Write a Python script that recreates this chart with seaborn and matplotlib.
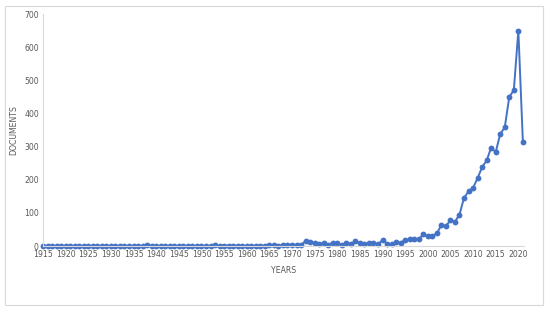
import matplotlib
matplotlib.use("Agg")
import matplotlib.pyplot as plt
import seaborn as sns
import pandas as pd
import numpy as np
from matplotlib.patches import Rectangle

years = list(range(1915, 2022))
documents = (
    [0] * 23 +            # 1915-1937
    [2] +                 # 1938
    [0] * 14 +            # 1939-1952
    [3, 0, 1, 1, 0, 1, 0, 0, 0, 1, 1, 1, 4, 2, 1, 2, 4, 4, 2, 3,  # 1953-1972
     15, 11, 10, 6, 8, 4, 10, 8, 3, 10, 6, 14, 8, 6, 9, 10, 5, 18,  # 1973-1990
     7, 5, 12, 10, 18, 20, 20, 20, 35, 29, 30, 38, 63, 60, 78, 73,  # 1991-2006
     95, 145, 165, 175, 205, 238, 258, 297, 283, 338, 358, 450, 470, 650, 315]  # 2007-2021
)
x_ticks = list(range(1915, 2021, 5))
y_ticks = [0, 100, 200, 300, 400, 500, 600, 700]

df = pd.DataFrame({"YEARS": years, "DOCUMENTS": documents})

sns.set_theme(style="white")
plt.rcParams['font.family'] = ['DejaVu Sans']

fig = plt.figure(figsize=(5.5, 3.1), dpi=100)
ax = fig.add_axes([43/550, 1-246/310, (524-43)/550, (246-14)/310])

sns.lineplot(data=df, x="YEARS", y="DOCUMENTS", ax=ax, color="#4472C4",
             linewidth=1.4, marker="o", markersize=4.2, markeredgewidth=0)

ax.set_xlim(1915, 2021 + 0.25)
ax.set_ylim(0, 700)
ax.set_xticks(x_ticks)
ax.set_yticks(y_ticks)
ax.tick_params(axis="both", labelsize=5.6, colors="#595959", length=0, pad=3)
ax.set_xlabel("YEARS", fontsize=5.6, color="#595959", labelpad=5)
ax.set_ylabel("DOCUMENTS", fontsize=5.6, color="#595959")
ax.yaxis.set_label_coords((18 - 43) / 481, 0.5)
for s in ["top", "right"]:
    ax.spines[s].set_visible(False)
for s in ["left", "bottom"]:
    ax.spines[s].set_color("#d9d9d9")
    ax.spines[s].set_linewidth(0.8)
ax.grid(False)
for line in ax.lines:
    line.set_clip_on(False)

fig.patches.append(Rectangle((5/550, 1-305/310), (543-5)/550, (305-6)/310,
                             transform=fig.transFigure, fill=False,
                             edgecolor="#d9d9d9", linewidth=0.8))

fig.savefig("out.png", dpi=100)
